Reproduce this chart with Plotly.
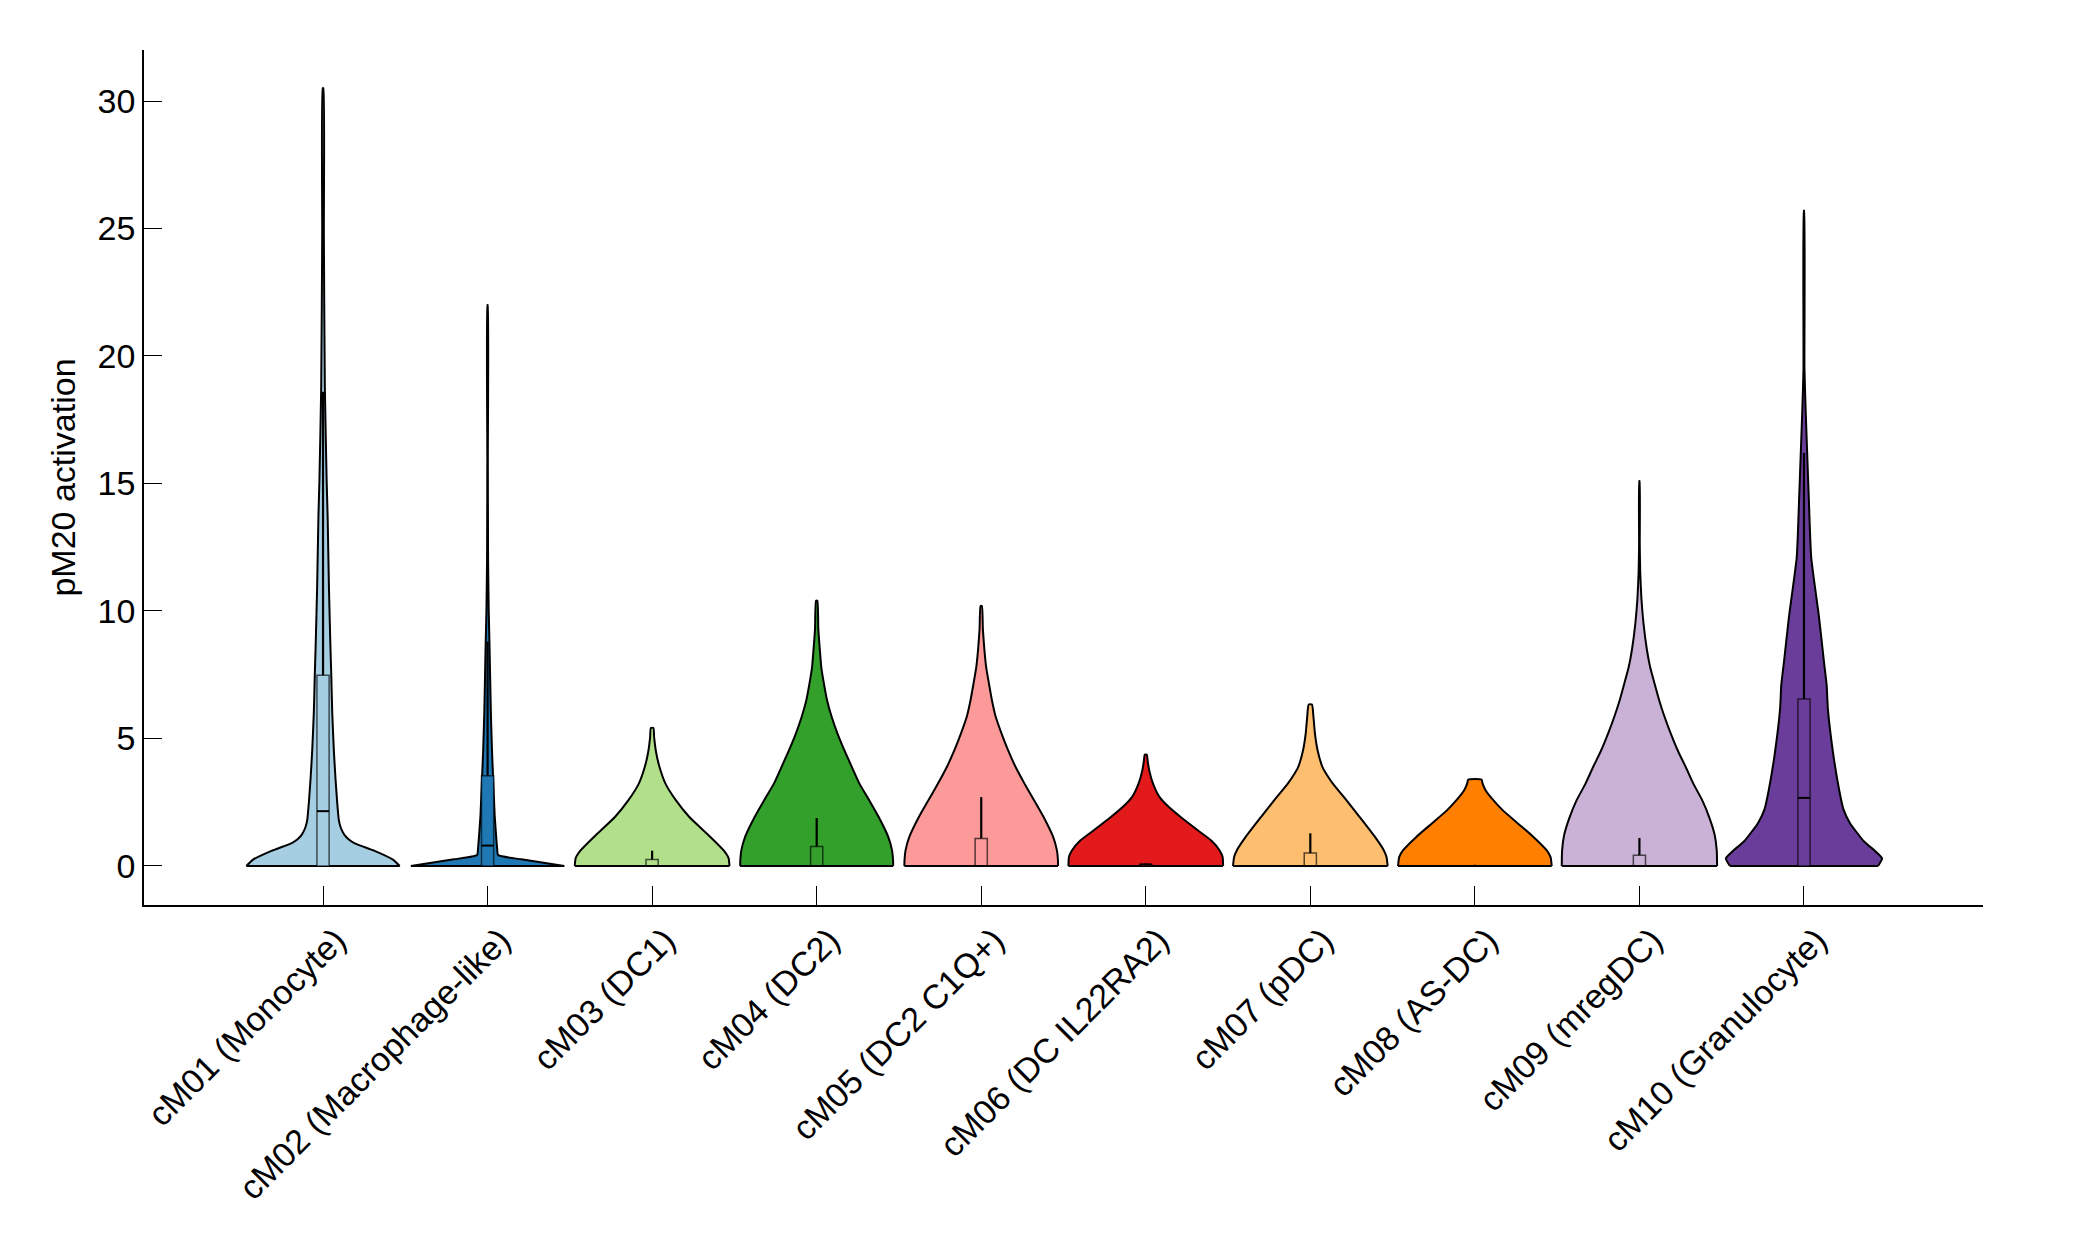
import plotly.graph_objects as go

# categories and colours (Paired colormap)
categories = [
    "cM01 (Monocyte)",
    "cM02 (Macrophage-like)",
    "cM03 (DC1)",
    "cM04 (DC2)",
    "cM05 (DC2 C1Q+)",
    "cM06 (DC IL22RA2)",
    "cM07 (pDC)",
    "cM08 (AS-DC)",
    "cM09 (mregDC)",
    "cM10 (Granulocyte)",
]
colors = [
    "#a6cee3", "#1f78b4", "#b2df8a", "#33a02c", "#fb9a99",
    "#e31a1c", "#fdbf6f", "#ff7f00", "#cab2d6", "#6a3d9a",
]

# violin density profiles: activation levels and scaled half widths
violin_levels = [
    [0, 0.25, 0.6, 0.9, 1.05, 1.22, 1.5, 1.8, 2.5, 3.4, 4.5, 6.0, 7.5, 8.6, 10.9, 13.7, 15.1, 18.8, 24.8, 30.5],
    [0, 0.26, 0.43, 0.7, 1.0, 2.0, 3.4, 4.5, 6.0, 8.6, 10.0, 12.1, 16.0, 22.0],
    [0, 0.3, 0.61, 1.14, 1.92, 2.58, 3.23, 3.9, 4.5, 5.06, 5.41],
    [0, 0.25, 0.61, 1.14, 1.92, 2.58, 3.23, 3.88, 4.54, 5.2, 5.85, 6.5, 7.15, 7.8, 8.5, 9.3, 10.4],
    [0, 0.25, 0.61, 1.14, 1.92, 2.58, 3.23, 3.88, 4.54, 5.2, 5.85, 6.5, 7.15, 7.8, 8.5, 9.3, 10.2],
    [0, 0.35, 0.61, 1.0, 1.4, 1.92, 2.3, 2.7, 3.23, 3.75, 4.1, 4.37],
    [0, 0.35, 0.61, 1.14, 1.92, 2.58, 3.23, 3.49, 3.88, 4.54, 5.2, 5.85, 6.33],
    [0, 0.35, 0.61, 1.14, 1.66, 2.18, 2.58, 2.97, 3.23, 3.39],
    [0, 0.6, 1.2, 1.9, 2.6, 3.2, 3.9, 4.5, 5.2, 5.9, 6.5, 7.2, 7.8, 8.5, 9.5, 10.5, 11.5, 12.6, 15.1],
    [0, 0.3, 0.6, 0.96, 1.68, 2.22, 2.94, 4.38, 6.18, 7.08, 7.98, 9.78, 12.1, 14.3, 16.1, 17.9, 19.5, 25.7],
]
violin_halfwidths = [
    [0.466, 0.425, 0.31, 0.19, 0.155, 0.13, 0.108, 0.096, 0.086, 0.076, 0.066, 0.056, 0.05, 0.045, 0.036, 0.028, 0.022, 0.011, 0.005, 0.002],
    [0.466, 0.205, 0.064, 0.058, 0.054, 0.043, 0.034, 0.027, 0.02, 0.012, 0.007, 0.003, 0.0015, 0.001],
    [0.47, 0.465, 0.435, 0.354, 0.226, 0.144, 0.081, 0.044, 0.023, 0.012, 0.008],
    [0.465, 0.464, 0.458, 0.435, 0.377, 0.319, 0.26, 0.214, 0.168, 0.126, 0.091, 0.063, 0.044, 0.028, 0.019, 0.01, 0.004],
    [0.467, 0.466, 0.46, 0.437, 0.379, 0.321, 0.263, 0.209, 0.163, 0.123, 0.088, 0.065, 0.047, 0.03, 0.019, 0.01, 0.004],
    [0.47, 0.467, 0.449, 0.398, 0.316, 0.212, 0.142, 0.084, 0.044, 0.021, 0.012, 0.006],
    [0.47, 0.463, 0.447, 0.393, 0.30, 0.219, 0.137, 0.109, 0.074, 0.044, 0.028, 0.019, 0.01],
    [0.467, 0.46, 0.437, 0.356, 0.263, 0.17, 0.112, 0.065, 0.047, 0.04],
    [0.472, 0.47, 0.458, 0.425, 0.38, 0.33, 0.28, 0.235, 0.19, 0.15, 0.12, 0.09, 0.065, 0.045, 0.025, 0.012, 0.005, 0.002, 0.001],
    [0.45, 0.475, 0.43, 0.365, 0.28, 0.24, 0.215, 0.178, 0.145, 0.138, 0.122, 0.091, 0.044, 0.03, 0.02, 0.01, 0.003, 0.001],
]

# box summary per category
q1 = [0, 0, 0, 0, 0, 0, 0, 0, 0, 0]
medians = [2.15, 0.8, 0.0, 0.0, 0.0, 0.06, 0.0, 0.0, 0.0, 2.67]
q3 = [7.48, 3.54, 0.25, 0.76, 1.08, 0.06, 0.51, 0.02, 0.42, 6.55]
whisker_hi = [18.6, 8.8, 0.6, 1.88, 2.7, 0.1, 1.28, 0.05, 1.1, 16.2]

FONT = "Liberation Sans, Arial, Helvetica, sans-serif"
BOX_HW = 0.037

fig = go.Figure()

for i, name in enumerate(categories):
    pos = i + 1
    lv = violin_levels[i]
    hw = violin_halfwidths[i]
    # outline up the left side and down the right side; the fill closes the base
    xs = [pos - w for w in hw] + [pos + w for w in reversed(hw)]
    ys = list(lv) + list(reversed(lv))
    fig.add_trace(go.Scatter(
        x=xs, y=ys, mode="lines", fill="toself",
        fillcolor=colors[i], line=dict(color="black", width=2, shape="spline", smoothing=0.5),
        hoverinfo="skip", showlegend=False,
    ))
    # flat base of the violin
    fig.add_trace(go.Scatter(
        x=[pos - hw[0], pos + hw[0]], y=[lv[0], lv[0]], mode="lines",
        line=dict(color="black", width=2), hoverinfo="skip", showlegend=False,
    ))
    # whisker
    fig.add_trace(go.Scatter(
        x=[pos, pos], y=[q3[i], whisker_hi[i]], mode="lines",
        line=dict(color="black", width=2.2), hoverinfo="skip", showlegend=False,
    ))
    # box
    fig.add_trace(go.Scatter(
        x=[pos - BOX_HW, pos + BOX_HW, pos + BOX_HW, pos - BOX_HW, pos - BOX_HW],
        y=[q1[i], q1[i], q3[i], q3[i], q1[i]],
        mode="lines", fill="toself", fillcolor=colors[i],
        line=dict(color="rgba(0,0,0,0.65)", width=1.5),
        hoverinfo="skip", showlegend=False,
    ))
    # median
    fig.add_trace(go.Scatter(
        x=[pos - BOX_HW, pos + BOX_HW], y=[medians[i], medians[i]], mode="lines",
        line=dict(color="black", width=2), hoverinfo="skip", showlegend=False,
    ))

# the page body adds an 8px offset, so the margins are trimmed to match
fig.update_layout(
    width=2083, height=1250,
    paper_bgcolor="white", plot_bgcolor="white",
    margin=dict(l=136, r=108, t=42, b=353),
    font=dict(family=FONT, size=34, color="black"),
    showlegend=False,
)
fig.update_xaxes(
    range=[-0.088, 11.088], tickmode="array",
    tickvals=list(range(1, len(categories) + 1)), ticktext=categories,
    tickangle=-45, ticks="inside", ticklen=19, tickwidth=1.3, tickcolor="black",
    ticklabelshift=13,
    showline=True, linecolor="black", linewidth=1.5,
    showgrid=False, zeroline=False, automargin=False,
)
fig.update_yaxes(
    range=[-1.53, 32.0], tickmode="array", tickvals=[0, 5, 10, 15, 20, 25, 30],
    ticks="inside", ticklen=18, tickwidth=1.3, tickcolor="black",
    showline=True, linecolor="black", linewidth=1.5,
    showgrid=False, zeroline=False, automargin=False,
    title=dict(text="pM20 activation", standoff=12, font=dict(size=34)),
)

fig.write_html("out.html")
